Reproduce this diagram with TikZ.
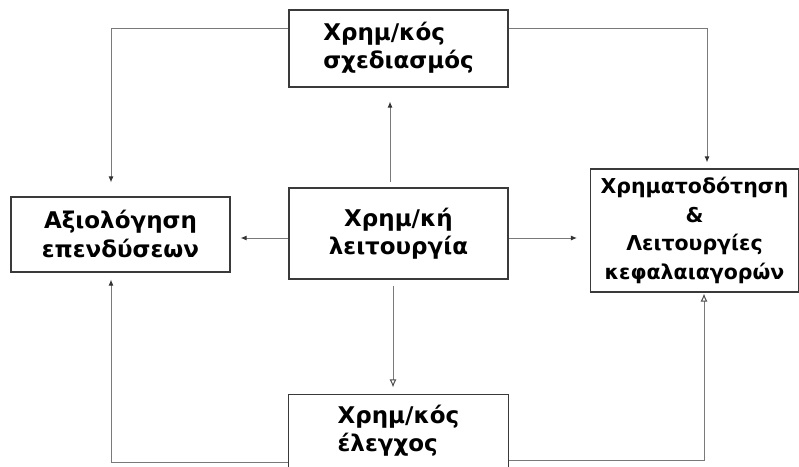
\documentclass[tikz,border=0pt]{standalone}
\usepackage{fontspec}
\setmainfont{DejaVu Sans}
\usetikzlibrary{arrows.meta}
\definecolor{conn}{HTML}{7A7A7A}
\definecolor{boxc}{HTML}{3A3A3A}
\newcommand{\lft}[1]{\begin{tabular}{@{}l@{}}#1\end{tabular}}
\begin{document}
\begin{tikzpicture}[x=1pt,y=-1pt,
  box/.style={draw=boxc,line width=1.1pt,inner sep=0pt,
    font=\fontsize{23}{28}\selectfont\bfseries,minimum width=219pt},
  flow/.style={draw=conn,line width=1pt,-{Latex[length=6pt,width=5pt,color=black!80]}},
  oflow/.style={draw=conn,line width=1pt,-{Latex[open,length=8pt,width=7pt,color=black!70,fill=white]}}]
\useasboundingbox (0,0) rectangle (799,466);
\clip (0,0) rectangle (799,466);
\node[box,minimum height=77pt] (plan) at (398.5,48.5) {\lft{Χρημ/κός\\σχεδιασμός}};
\node[box,minimum height=91pt,align=center] (fin) at (398.5,233.5) {Χρημ/κή\\λειτουργία};
\node[box,minimum height=75pt,align=center,font=\fontsize{23}{29}\selectfont\bfseries] (inv) at (120.5,234.5) {Αξιολόγηση\\επενδύσεων};
\node[box,minimum width=208pt,minimum height=123pt,align=center,font=\fontsize{20.5}{28.5}\selectfont\bfseries] (mkt) at (694.5,230.5) {Χρηματοδότηση\\\&\\Λειτουργίες\\κεφαλαιαγορών};
\node[box,draw=none,minimum height=74pt] (ctl) at (398.5,432) {\lft{Χρημ/κός\\έλεγχος}};
\draw[draw=boxc,line width=1.1pt] ([yshift=-10pt]ctl.south west) -- (ctl.north west) -- (ctl.north east) -- ([yshift=-10pt]ctl.south east);
% connectors
\draw[flow,shorten >=14pt] ([yshift=-19pt]plan.north west) -| ([xshift=-9.5pt]inv.north);
\draw[flow,shorten >=6pt] ([yshift=-19pt]plan.north east) -| ([xshift=12.5pt]mkt.north);
\draw[flow,shorten <=5pt,shorten >=14pt] ([xshift=-8.5pt]fin.north) -- ([xshift=-8.5pt]fin.north |- plan.south);
\draw[flow,shorten >=10pt] ([yshift=-4.5pt]fin.west) -- ([yshift=-4.5pt]fin.west -| inv.east);
\draw[flow,shorten >=13pt] ([yshift=-4.5pt]fin.east) -- ([yshift=-4.5pt]fin.east -| mkt.west);
\draw[oflow,shorten <=6pt,shorten >=7pt] ([xshift=-5.5pt]fin.south) -- ([xshift=-5.5pt]fin.south |- ctl.north);
\draw[flow,shorten >=7pt] ([yshift=7pt]ctl.south west) -| ([xshift=-9.5pt]inv.south);
\draw[oflow,shorten >=1pt] ([yshift=9pt]ctl.south east) -| ([xshift=9.5pt]mkt.south);
\end{tikzpicture}
\end{document}
